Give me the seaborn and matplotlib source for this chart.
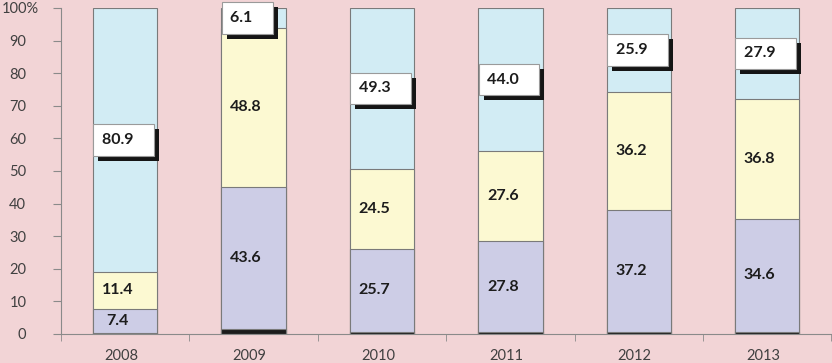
import pandas as pd
import numpy as np
import seaborn as sns
import matplotlib.pyplot as plt
from matplotlib.patches import Rectangle
from matplotlib.transforms import IdentityTransform, ScaledTranslation

# data (percent shares)
years = ['2008', '2009', '2010', '2011', '2012', '2013']
other = [0.3, 1.5, 0.5, 0.6, 0.7, 0.7]      # thin black base
purple = [7.4, 43.6, 25.7, 27.8, 37.2, 34.6]
yellow = [11.4, 48.8, 24.5, 27.6, 36.2, 36.8]
blue = [80.9, 6.1, 49.3, 44.0, 25.9, 27.9]
yticks = [0, 10, 20, 30, 40, 50, 60, 70, 80, 90, 100]
ytick_labels = ['0', '10', '20', '30', '40', '50', '60', '70', '80', '90', '100%']

df = pd.DataFrame({'year': years, 'other': other, 'purple': purple,
                   'yellow': yellow, 'blue': blue})
df['c1'] = df['other']
df['c2'] = df['c1'] + df['purple']
df['c3'] = df['c2'] + df['yellow']
df['c4'] = df['c3'] + df['blue']

bg = '#f2d4d6'
plt.rcParams['font.family'] = ['Lato', 'DejaVu Sans']

fig = plt.figure(figsize=(8.32, 3.63), dpi=100, facecolor=bg)
ax = fig.add_axes([0.0733, 0.080, 0.926, 0.898], facecolor=bg)

# stacked bars by layering cumulative totals
layers = [('c4', '#d2ecf4'), ('c3', '#fcf9d2'), ('c2', '#cdcde6'), ('c1', '#1c1c1c')]
for col, color in layers:
    sns.barplot(data=df, x='year', y=col, color=color, width=0.5,
                edgecolor='#7a7a7a', linewidth=0.8, ax=ax, saturation=1)

txt = '#1c1c1c'
boxed = []
for i in range(len(years)):
    # inside labels for purple and yellow segments
    ax.text(i - 0.06, df['c1'][i] + purple[i] / 2, f'{purple[i]:.1f}',
            ha='center', va='center', fontsize=11.5, fontweight='bold', color=txt)
    ax.text(i - 0.06, df['c2'][i] + yellow[i] / 2, f'{yellow[i]:.1f}',
            ha='center', va='center', fontsize=11.5, fontweight='bold', color=txt)
    # boxed label for the blue segment (shadow added after layout)
    ymid = df['c3'][i] + blue[i] / 2
    t = ax.annotate(f'{blue[i]:.1f}   ', xy=(i - 0.25, ymid), xytext=(9, 0),
                    textcoords='offset pixels', ha='left', va='center',
                    fontsize=11.5, fontweight='bold', color=txt, zorder=6,
                    bbox=dict(boxstyle='square,pad=0.55', fc='white', ec='#9a9a9a', lw=0.8),
                    annotation_clip=False, clip_on=False)
    boxed.append(t)

ax.set_xlim(-0.5, 5.5)
ax.set_ylim(0, 100)
ax.set_yticks(yticks)
ax.set_yticklabels(ytick_labels)
ax.set_xlabel('')
ax.set_ylabel('')
ax.set_xticks(np.arange(len(years)))
ax.set_xticklabels(years)
ax.set_xticks(np.arange(-0.5, len(years), 1), minor=True)
ax.tick_params(axis='x', which='major', length=0, pad=11, labelsize=10.5, labelcolor='#404040')
ax.tick_params(axis='x', which='minor', length=5, color='#8a8a8a', direction='out')
ax.tick_params(axis='y', length=6, color='#8a8a8a', labelsize=10.5, labelcolor='#404040', pad=19)
for s in ['top', 'right']:
    ax.spines[s].set_visible(False)
for s in ['left', 'bottom']:
    ax.spines[s].set_color('#8a8a8a')
    ax.spines[s].set_linewidth(0.8)

# the percent sign hangs to the right of the number column
lab100 = ax.get_yticklabels()[-1]
lab100.set_transform(lab100.get_transform() + ScaledTranslation(13 / 100, 0, fig.dpi_scale_trans))
for lab in ax.get_xticklabels():
    lab.set_transform(lab.get_transform() + ScaledTranslation(-4 / 100, 0, fig.dpi_scale_trans))

# drop shadows behind the white label boxes
fig.canvas.draw()
r = fig.canvas.get_renderer()
for t in boxed:
    bb = t.get_bbox_patch().get_window_extent(r)
    sh = Rectangle((bb.x0 + 5, bb.y0 - 5), bb.width, bb.height, transform=IdentityTransform(),
                   fc='#151515', ec='none', zorder=5, clip_on=False)
    ax.add_artist(sh)

fig.savefig('out.png', dpi=100, facecolor=bg)
